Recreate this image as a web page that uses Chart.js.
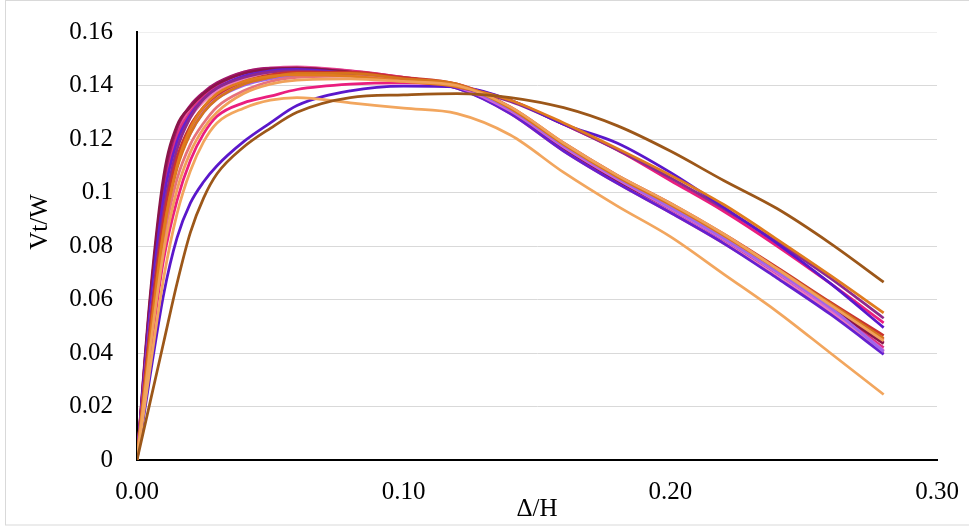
<!DOCTYPE html>
<html>
<head>
<meta charset="utf-8">
<script src="https://cdn.jsdelivr.net/npm/chart.js@4.4.1/dist/chart.umd.min.js"></script>
<style>
  html, body { margin: 0; padding: 0; background: #fff; }
  #wrap { width: 969px; height: 526px; }
</style>
</head>
<body>
<div id="wrap"><canvas id="chart" width="969" height="526"></canvas></div>
<script>
// x positions (Δ/H) shared by every curve
const xValues = [0, 0.005, 0.01, 0.015, 0.02, 0.025, 0.03, 0.04, 0.05, 0.06, 0.08, 0.10, 0.12, 0.14, 0.16, 0.18, 0.20, 0.22, 0.24, 0.26, 0.28];

const yTicks = [0, 0.02, 0.04, 0.06, 0.08, 0.1, 0.12, 0.14, 0.16];
const yTickLabels = ['0', '0.02', '0.04', '0.06', '0.08', '0.1', '0.12', '0.14', '0.16'];
const xTicks = [0, 0.1, 0.2, 0.3];
const xTickLabels = ['0.00', '0.10', '0.20', '0.30'];

// Vt/W curves
const brown        = [0, 0.022, 0.044, 0.066, 0.085, 0.098, 0.107, 0.117, 0.124, 0.130, 0.1355, 0.1365, 0.137, 0.1355, 0.1317, 0.125, 0.1155, 0.1045, 0.094, 0.081, 0.0665];
const lightOrange  = [0, 0.035, 0.068, 0.092, 0.108, 0.119, 0.126, 0.1315, 0.1345, 0.1355, 0.1335, 0.1315, 0.1295, 0.1215, 0.1075, 0.095, 0.0835, 0.0695, 0.0555, 0.040, 0.0245];
const violetSlow   = [0, 0.032, 0.062, 0.083, 0.096, 0.104, 0.110, 0.119, 0.126, 0.1325, 0.138, 0.1398, 0.1395, 0.1345, 0.1255, 0.1185, 0.1075, 0.0945, 0.081, 0.066, 0.0495];
const deepPink     = [0, 0.040, 0.075, 0.097, 0.112, 0.122, 0.1285, 0.1335, 0.136, 0.1385, 0.1405, 0.141, 0.1398, 0.1345, 0.1255, 0.116, 0.1045, 0.093, 0.080, 0.066, 0.0513];
const orange       = [0, 0.045, 0.085, 0.110, 0.124, 0.132, 0.137, 0.1415, 0.1435, 0.144, 0.1435, 0.1415, 0.1395, 0.1345, 0.126, 0.1165, 0.1065, 0.0955, 0.0825, 0.069, 0.055];
const purple       = [0, 0.052, 0.093, 0.116, 0.128, 0.135, 0.139, 0.143, 0.145, 0.1455, 0.144, 0.142, 0.1395, 0.134, 0.1255, 0.116, 0.1055, 0.094, 0.0815, 0.068, 0.053];
const maroon       = [0, 0.062, 0.106, 0.125, 0.132, 0.137, 0.1405, 0.1445, 0.146, 0.1465, 0.145, 0.1425, 0.139, 0.130, 0.1165, 0.1045, 0.094, 0.0825, 0.070, 0.057, 0.0435];
const hotPink      = [0, 0.060, 0.103, 0.123, 0.1315, 0.137, 0.1405, 0.145, 0.1465, 0.147, 0.1455, 0.143, 0.1395, 0.1295, 0.1155, 0.1035, 0.0925, 0.081, 0.0685, 0.055, 0.040];
const pinkRed      = [0, 0.058, 0.100, 0.121, 0.130, 0.136, 0.140, 0.1445, 0.146, 0.1465, 0.1455, 0.143, 0.1395, 0.130, 0.1165, 0.1045, 0.0935, 0.082, 0.0695, 0.0565, 0.042];
const violetFast   = [0, 0.057, 0.098, 0.119, 0.129, 0.135, 0.139, 0.1435, 0.1455, 0.146, 0.1445, 0.1425, 0.139, 0.1295, 0.1155, 0.1035, 0.0925, 0.081, 0.068, 0.0545, 0.0395];
const orchid       = [0, 0.052, 0.090, 0.112, 0.124, 0.131, 0.136, 0.141, 0.1435, 0.1445, 0.1445, 0.1425, 0.1395, 0.1305, 0.117, 0.105, 0.094, 0.0825, 0.070, 0.0565, 0.041];
const lavender     = [0, 0.050, 0.088, 0.110, 0.122, 0.130, 0.135, 0.140, 0.1425, 0.1435, 0.1445, 0.1425, 0.140, 0.131, 0.1175, 0.1055, 0.0945, 0.083, 0.0705, 0.057, 0.0405];
const darkOrange   = [0, 0.047, 0.086, 0.109, 0.122, 0.130, 0.135, 0.1405, 0.143, 0.1445, 0.1445, 0.1425, 0.1405, 0.1315, 0.118, 0.106, 0.0955, 0.084, 0.0715, 0.0585, 0.0455];
const red          = [0, 0.050, 0.090, 0.113, 0.125, 0.132, 0.1365, 0.1415, 0.144, 0.145, 0.145, 0.143, 0.1405, 0.132, 0.1185, 0.1065, 0.096, 0.0845, 0.072, 0.059, 0.0465];
const salmon       = [0, 0.045, 0.082, 0.105, 0.118, 0.126, 0.132, 0.138, 0.1415, 0.143, 0.1435, 0.142, 0.1405, 0.1315, 0.118, 0.106, 0.0955, 0.084, 0.0715, 0.0585, 0.045];
const darkMagenta  = [0, 0.060, 0.104, 0.124, 0.1325, 0.1375, 0.141, 0.145, 0.1465, 0.1465, 0.145, 0.1425, 0.140, 0.1315, 0.118, 0.106, 0.095, 0.0835, 0.071, 0.0575, 0.044];
const lightPink    = [0, 0.055, 0.096, 0.118, 0.128, 0.134, 0.138, 0.1425, 0.145, 0.146, 0.145, 0.1425, 0.1395, 0.1305, 0.1165, 0.1045, 0.0935, 0.082, 0.069, 0.0555, 0.0405];
const sandy        = [0, 0.042, 0.078, 0.101, 0.115, 0.124, 0.130, 0.137, 0.1405, 0.142, 0.1425, 0.1415, 0.140, 0.132, 0.1185, 0.1065, 0.096, 0.0845, 0.0715, 0.058, 0.0445];

// drawing order, bottom to top, with line colours
const curves = [
  [brown, '#9C5719'], [lightOrange, '#F2A65E'], [sandy, '#F0A15A'], [orange, '#E07B1E'],
  [darkOrange, '#D6741C'], [red, '#C9342E'], [salmon, '#E7717A'], [violetSlow, '#5A17CB'],
  [purple, '#8E2A8E'], [deepPink, '#EA1E7E'], [lavender, '#A066EA'], [orchid, '#D565D6'],
  [violetFast, '#6420D0'], [maroon, '#8A1549'], [darkMagenta, '#A3186F'], [lightPink, '#EE7FB8'],
  [pinkRed, '#DC2F82'], [hotPink, '#E95A9D']
];

const FONT = "'Times New Roman', 'Liberation Serif', serif";
Chart.defaults.font.family = FONT;
Chart.defaults.color = '#000';

const frameAndTitles = {
  id: 'frameAndTitles',
  beforeDraw(chart) {
    const ctx = chart.ctx;
    ctx.save();
    ctx.fillStyle = '#fff';
    ctx.fillRect(0, 0, chart.width, chart.height);
    ctx.strokeStyle = '#d9d9d9';
    ctx.lineWidth = 1;
    ctx.strokeRect(5.5, 0.5, 1000, 524.5);
    ctx.restore();
  },
  afterDraw(chart) {
    const ctx = chart.ctx;
    ctx.save();
    ctx.font = '25px ' + FONT;
    ctx.fillStyle = '#000';
    ctx.textAlign = 'center';
    ctx.textBaseline = 'middle';
    ctx.fillText('Δ/H', (chart.chartArea.left + chart.chartArea.right) / 2, 509);
    ctx.translate(40, 222);
    ctx.rotate(-Math.PI / 2);
    ctx.fillText('Vt/W', 0, 0);
    ctx.restore();
  }
};

// no extra room for label overflow: the plot box is set by layout padding only
const noOverflow = s => { s.paddingTop = 0; s.paddingBottom = 0; s.paddingLeft = 0; s.paddingRight = 0; };

new Chart(document.getElementById('chart'), {
  type: 'scatter',
  data: {
    datasets: curves.map(([vals, color]) => ({
      data: xValues.map((x, i) => ({ x: x, y: vals[i] })),
      showLine: true,
      borderColor: color,
      backgroundColor: color,
      borderWidth: 2.75,
      pointRadius: 0,
      cubicInterpolationMode: 'monotone',
      fill: false
    }))
  },
  options: {
    responsive: false,
    animation: false,
    devicePixelRatio: 1,
    layout: { padding: { top: 32, right: 32, left: 0, bottom: 0 } },
    plugins: { legend: { display: false }, tooltip: { enabled: false } },
    scales: {
      x: {
        type: 'linear', min: 0, max: 0.3,
        afterBuildTicks: s => { s.ticks = xTicks.map(v => ({ value: v })); },
        afterFit: s => { s.height = 66; noOverflow(s); },
        ticks: { callback: (v, i) => xTickLabels[i], padding: 17, font: { size: 25 }, color: '#000', maxRotation: 0, autoSkip: false },
        grid: { color: 'rgba(0,0,0,0)', drawTicks: false },
        border: { color: '#000', width: 2 }
      },
      y: {
        type: 'linear', min: 0, max: 0.16,
        afterBuildTicks: s => { s.ticks = yTicks.map(v => ({ value: v })); },
        afterFit: s => { s.width = 137; noOverflow(s); },
        ticks: { callback: (v, i) => yTickLabels[i], padding: 24, font: { size: 25 }, color: '#000', autoSkip: false },
        grid: { color: c => c.index === yTicks.length - 1 ? '#efefef' : '#d9d9d9', drawTicks: false, lineWidth: 1 },
        border: { color: '#000', width: 2 }
      }
    }
  },
  plugins: [frameAndTitles]
});
</script>
</body>
</html>
